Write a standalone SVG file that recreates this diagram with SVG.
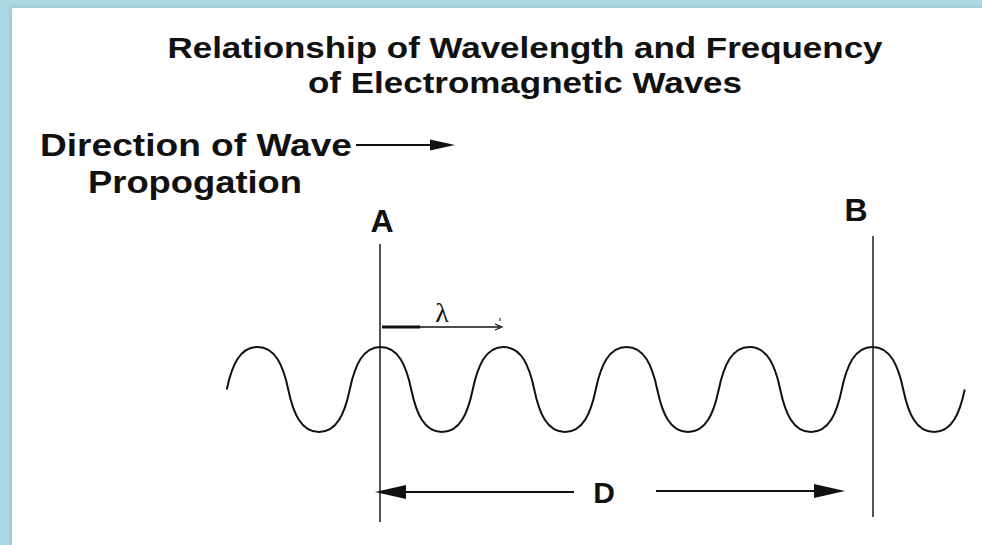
<svg xmlns="http://www.w3.org/2000/svg" width="982" height="545" viewBox="0 0 982 545">
<defs>
<style>
.t{font-family:"Liberation Sans",Arial,Helvetica,sans-serif;font-weight:bold;fill:#111}
.ln{stroke:#555;stroke-width:2;fill:none}
.ar{stroke:#111;stroke-width:2;fill:none}
.hd{fill:#111}
</style>
<filter id="sh" x="-5%" y="-5%" width="110%" height="110%"><feGaussianBlur stdDeviation="2"/></filter>
</defs>
<rect x="0" y="0" width="982" height="545" fill="#aed8e3"/>
<rect x="11" y="7" width="975" height="545" fill="#8aa9b2" opacity="0.5" filter="url(#sh)"/>
<rect x="12" y="8" width="970" height="537" fill="#ffffff"/>
<g id="title">
<text class="t" x="525" y="58" font-size="30" text-anchor="middle" textLength="715" lengthAdjust="spacingAndGlyphs">Relationship of Wavelength and Frequency</text>
<text class="t" x="525" y="93" font-size="30" text-anchor="middle" textLength="434" lengthAdjust="spacingAndGlyphs">of Electromagnetic Waves</text>
</g>
<g id="direction">
<text class="t" x="40" y="156" font-size="32" textLength="312" lengthAdjust="spacingAndGlyphs">Direction of Wave</text>
<text class="t" x="88" y="193" font-size="32" textLength="214" lengthAdjust="spacingAndGlyphs">Propogation</text>
</g>
<g id="connectors">
<line class="ar" x1="356" y1="145" x2="435" y2="145"/>
<polygon class="hd" points="430,139.5 455,145 430,150.5"/>
<line class="ln" x1="380" y1="244" x2="380" y2="522"/>
<line class="ln" x1="873" y1="236" x2="873" y2="517"/>
<path d="M382,327 L420,327" stroke="#111" stroke-width="3" fill="none"/>
<path d="M418,327 L500,327" stroke="#111" stroke-width="1.5" fill="none"/>
<path d="M495,324 L502,327 L495,330" stroke="#111" stroke-width="1.2" fill="none"/>
<line x1="500" y1="318" x2="500" y2="321" stroke="#111" stroke-width="1"/>
<line class="ar" x1="400" y1="492" x2="574" y2="492"/>
<polygon class="hd" points="375,492 406,485 406,499"/>
<line class="ar" x1="656" y1="491" x2="818" y2="491"/>
<polygon class="hd" points="845,491 814,484 814,498"/>
</g>
<g id="wave">
<path d="M226.75,389.5 c5,-24 13,-42.5 30.75,-42.5 c17.75,0 25.75,18.5 30.75,42.5 c5,24 13,42.5 30.75,42.5 c17.75,0 25.75,-18.5 30.75,-42.5
c5,-24 13,-42.5 30.75,-42.5 c17.75,0 25.75,18.5 30.75,42.5 c5,24 13,42.5 30.75,42.5 c17.75,0 25.75,-18.5 30.75,-42.5
c5,-24 13,-42.5 30.75,-42.5 c17.75,0 25.75,18.5 30.75,42.5 c5,24 13,42.5 30.75,42.5 c17.75,0 25.75,-18.5 30.75,-42.5
c5,-24 13,-42.5 30.75,-42.5 c17.75,0 25.75,18.5 30.75,42.5 c5,24 13,42.5 30.75,42.5 c17.75,0 25.75,-18.5 30.75,-42.5
c5,-24 13,-42.5 30.75,-42.5 c17.75,0 25.75,18.5 30.75,42.5 c5,24 13,42.5 30.75,42.5 c17.75,0 25.75,-18.5 30.75,-42.5
c5,-24 13,-42.5 30.75,-42.5 c17.75,0 25.75,18.5 30.75,42.5 c5,24 13,42.5 30.75,42.5 c17.75,0 25.75,-18.5 30.75,-42.5" fill="none" stroke="#111" stroke-width="2"/>
</g>
<g id="labels">
<text class="t" x="382" y="232" font-size="32" text-anchor="middle">A</text>
<text class="t" x="856" y="221" font-size="32" text-anchor="middle">B</text>
<text class="t" x="604" y="503" font-size="30" text-anchor="middle">D</text>
<text x="442" y="322" font-size="28" text-anchor="middle" font-family="'Liberation Serif','DejaVu Serif',serif" fill="#111">λ</text>
</g>
</svg>
